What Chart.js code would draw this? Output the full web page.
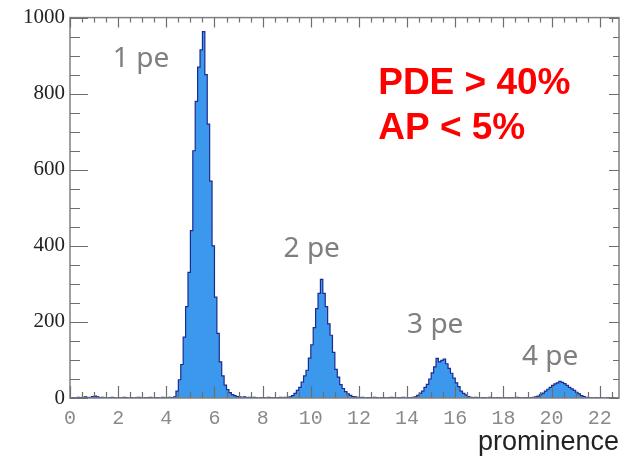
<!DOCTYPE html>
<html>
<head>
<meta charset="utf-8">
<script src="https://cdn.jsdelivr.net/npm/chart.js@4.4.1/dist/chart.umd.min.js"></script>
<style>
  html, body { margin: 0; padding: 0; background: #fff; }
</style>
</head>
<body>
<canvas id="histo" width="629" height="458"></canvas>
<script>
// histogram: bins of 0.1 starting at 0
const binStart = 0;
const binWidth = 0.1;
const counts = [
  0, 1, 0, 2, 1, 2, 3, 1, 2, 4,            // 0.0 - 0.9
  5, 3, 1, 2, 1, 0, 1, 2, 1, 0,            // 1
  1, 0, 2, 1, 0, 1, 0, 1, 2, 1,            // 2
  0, 1, 1, 2, 0, 1, 1, 0, 2, 1,            // 3
  1, 2, 1, 3, 18, 48, 88, 160, 240, 330,   // 4
  440, 650, 780, 870, 915, 963, 850, 720, 570, 400, // 5  (1 pe)
  265, 170, 95, 58, 34, 22, 14, 9, 6, 4,   // 6
  3, 2, 3, 1, 2, 1, 2, 1, 0, 1,            // 7
  1, 0, 2, 1, 1, 0, 1, 2, 1, 2,            // 8
  2, 3, 6, 12, 20, 28, 42, 58, 73, 105,    // 9
  140, 185, 235, 275, 312, 275, 240, 195, 165, 120, // 10 (2 pe)
  75, 55, 35, 25, 17, 11, 7, 4, 3, 2,      // 11
  1, 2, 0, 1, 1, 0, 2, 1, 0, 1,            // 12
  1, 0, 1, 2, 1, 0, 1, 1, 2, 0,            // 13
  1, 1, 2, 3, 7, 12, 18, 28, 36, 50,       // 14
  66, 82, 104, 95, 99, 102, 90, 78, 65, 52, // 15 (3 pe)
  40, 30, 18, 12, 8, 4, 2, 1, 2, 1,        // 16
  0, 1, 1, 0, 2, 1, 0, 1, 1, 0,            // 17
  1, 0, 1, 1, 0, 2, 1, 0, 1, 1,            // 18
  0, 1, 2, 3, 5, 9, 13, 18, 23, 28,        // 19
  33, 37, 40, 44, 41, 38, 33, 28, 24, 20,  // 20 (4 pe)
  15, 11, 6, 4, 2, 1, 1, 0, 1, 0,          // 21
  1, 0, 0, 1, 0, 1, 0, 0                   // 22.0 - 22.7
];
const xTickValues = [0, 2, 4, 6, 8, 10, 12, 14, 16, 18, 20, 22];
const yTickValues = [0, 200, 400, 600, 800, 1000];
const peakLabels = ['1 pe', '2 pe', '3 pe', '4 pe'];
const infoLines = ['PDE > 40%', 'AP < 5%'];
const xTitle = 'prominence';

const xMax = binStart + counts.length * binWidth;

// step points at the left edge of every bin, plus the closing edge
let points = counts.map((c, i) => ({ x: binStart + i * binWidth, y: c }));
points.push({ x: xMax, y: counts[counts.length - 1] });

// where the texts sit, in data units (x value, y value of the baseline)
const peakAnchors = [[1.78, 869], [8.87, 371], [14.0, 172], [18.77, 86]];
const infoAnchors = [[12.8, 799], [12.8, 681]];

const frame = {
  id: 'frame',
  afterDatasetsDraw(chart) {
    const { ctx, chartArea: a, scales: { x, y } } = chart;
    ctx.save();
    ctx.strokeStyle = '#808080';
    ctx.lineWidth = 1.5;
    ctx.strokeRect(a.left, a.top, a.right - a.left, a.bottom - a.top);

    ctx.lineWidth = 1.2;
    ctx.strokeStyle = '#6e6e6e';
    ctx.beginPath();
    // x ticks, every 0.5, long every 2
    for (let i = 0; i / 2 <= xMax; i++) {
      const px = Math.round(x.getPixelForValue(i / 2)) + 0.5;
      const major = i % 4 === 0;
      ctx.moveTo(px, a.bottom);
      ctx.lineTo(px, a.bottom - (major ? 12 : 6));
      ctx.moveTo(px, a.top);
      ctx.lineTo(px, a.top + (major ? 10 : 5));
    }
    // y ticks, every 50, long every 200
    for (let v = 0; v <= 1000; v += 50) {
      const py = Math.round(y.getPixelForValue(v)) + 0.5;
      const major = v % 200 === 0;
      ctx.moveTo(a.left, py);
      ctx.lineTo(a.left + (major ? 18 : 10), py);
      ctx.moveTo(a.right, py);
      ctx.lineTo(a.right - (major ? 10 : 6), py);
    }
    ctx.stroke();

    ctx.textAlign = 'left';
    ctx.textBaseline = 'alphabetic';
    ctx.fillStyle = '#7f7f7f';
    ctx.font = '28px "Noto Sans"';
    peakLabels.forEach((t, i) => {
      ctx.fillText(t, x.getPixelForValue(peakAnchors[i][0]), y.getPixelForValue(peakAnchors[i][1]));
    });
    ctx.fillStyle = '#ff0000';
    ctx.font = 'bold 37px "Liberation Sans"';
    infoLines.forEach((t, i) => {
      ctx.fillText(t, x.getPixelForValue(infoAnchors[i][0]), y.getPixelForValue(infoAnchors[i][1]));
    });
    ctx.restore();
  }
};

new Chart(document.getElementById('histo'), {
  type: 'line',
  data: {
    datasets: [{
      data: points,
      stepped: 'before',
      fill: 'origin',
      backgroundColor: '#3b98ec',
      borderColor: '#1d2b8e',
      borderWidth: 1.2,
      pointRadius: 0,
      tension: 0
    }]
  },
  options: {
    responsive: false,
    animation: false,
    events: [],
    layout: { padding: { top: 15, right: 10, left: 0, bottom: 0 } },
    plugins: { legend: { display: false }, tooltip: { enabled: false } },
    scales: {
      x: {
        type: 'linear',
        min: 0,
        max: xMax,
        grid: { display: false, drawTicks: false },
        border: { display: false },
        afterBuildTicks: s => { s.ticks = xTickValues.map(v => ({ value: v })); },
        afterFit: s => { s.height = 60; },
        ticks: {
          autoSkip: false,
          maxRotation: 0,
          padding: 9,
          color: '#8a8a8a',
          font: { family: '"Liberation Mono", monospace', size: 20 },
          callback: v => String(v)
        },
        title: {
          display: true,
          text: xTitle,
          align: 'end',
          color: '#222',
          padding: { top: 0, bottom: -1 },
          font: { family: '"Liberation Sans", Arial', size: 27 }
        }
      },
      y: {
        min: 0,
        max: 1000,
        grid: { display: false, drawTicks: false },
        border: { display: false },
        afterBuildTicks: s => { s.ticks = yTickValues.map(v => ({ value: v })); },
        afterFit: s => { s.width = 70; },
        ticks: {
          padding: 5,
          color: '#222',
          font: { family: '"Liberation Serif", serif', size: 21 },
          callback: v => String(v)
        }
      }
    }
  },
  plugins: [frame]
});
</script>
</body>
</html>
